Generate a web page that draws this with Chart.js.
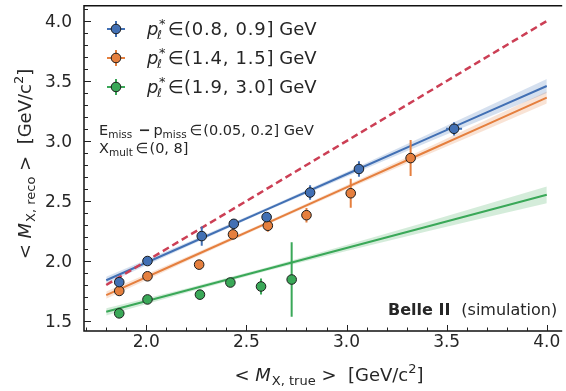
<!DOCTYPE html>
<html>
<head>
<meta charset="utf-8">
<script src="https://cdn.jsdelivr.net/npm/chart.js@4/dist/chart.umd.min.js"></script>
<style>
  html, body { margin: 0; padding: 0; background: #fff; overflow: hidden; }
  #wrap { width: 566px; height: 391px; }
</style>
</head>
<body>
<div id="wrap"><canvas id="c" width="566" height="391"></canvas></div>
<script>
// Mean reconstructed vs. true hadronic mass, three lepton-momentum bins
const blueX    = [1.865, 2.006, 2.277, 2.437, 2.601, 2.818, 3.062, 3.537];
const blueY    = [1.824, 2.000, 2.208, 2.310, 2.366, 2.571, 2.767, 3.102];
const blueErrY = [0.030, 0.030, 0.080, 0.040, 0.030, 0.060, 0.065, 0.055];
const blueErrX = [0.010, 0.010, 0.010, 0.010, 0.010, 0.010, 0.015, 0.040];

const orangeX    = [1.865, 2.006, 2.264, 2.433, 2.607, 2.800, 3.021, 3.320];
const orangeY    = [1.751, 1.873, 1.970, 2.222, 2.294, 2.382, 2.565, 2.858];
const orangeErrY = [0.030, 0.030, 0.030, 0.030, 0.050, 0.060, 0.120, 0.150];
const orangeErrX = [0.010, 0.010, 0.010, 0.010, 0.010, 0.010, 0.010, 0.010];

const greenX    = [1.865, 2.006, 2.268, 2.420, 2.573, 2.726];
const greenY    = [1.564, 1.680, 1.720, 1.821, 1.788, 1.846];
const greenErrY = [0.020, 0.020, 0.020, 0.020, 0.066, 0.310];
const greenErrX = [0.010, 0.010, 0.010, 0.010, 0.010, 0.010];

// Linear fits with their uncertainty bands, sampled at fitX
const fitX        = [1.8, 2.2, 2.6, 3.0, 3.4, 3.7, 4.0];
const blueFit     = [1.840, 2.134, 2.429, 2.723, 3.018, 3.239, 3.459];
const blueBandHi  = [1.870, 2.152, 2.442, 2.743, 3.051, 3.284, 3.517];
const blueBandLo  = [1.810, 2.116, 2.416, 2.703, 2.985, 3.194, 3.401];
const orangeFit   = [1.716, 2.015, 2.314, 2.614, 2.913, 3.137, 3.362];
const orangeBandHi= [1.746, 2.033, 2.327, 2.632, 2.943, 3.177, 3.412];
const orangeBandLo= [1.686, 1.997, 2.301, 2.596, 2.883, 3.097, 3.312];
const greenFit    = [1.577, 1.754, 1.931, 2.109, 2.286, 2.419, 2.552];
const greenBandHi = [1.607, 1.772, 1.946, 2.134, 2.326, 2.474, 2.622];
const greenBandLo = [1.547, 1.736, 1.916, 2.084, 2.246, 2.364, 2.482];

// Perfect-reconstruction reference line
const diagX = [1.8, 4.0];
const diagY = [1.8, 4.0];

// Axis tick labels
const xTicks = [2.0, 2.5, 3.0, 3.5, 4.0];
const yTicks = [1.5, 2.0, 2.5, 3.0, 3.5, 4.0];

// Legend entries
const legendRanges = ['(0.8, 0.9]', '(1.4, 1.5]', '(1.9, 3.0]'];

const C_BLUE = '#4270b4', C_ORANGE = '#e57f3e', C_GREEN = '#3aa858', C_RED = '#cc3f55';
const FONT = '"DejaVu Sans", "Liberation Sans", sans-serif';
const INK = '#262626';

const pts = (xs, ys) => xs.map((x, i) => ({ x: x, y: ys[i] }));

function scatterSet(xs, ys, ex, ey, color) {
  return {
    data: pts(xs, ys), showLine: false,
    pointRadius: 4.8, pointHoverRadius: 4.8,
    pointBackgroundColor: color, pointBorderColor: '#1c1c1c', pointBorderWidth: 1,
    errX: ex, errY: ey, errColor: color
  };
}
function lineSet(xs, ys, color, width, dash) {
  return {
    data: pts(xs, ys), showLine: true, pointRadius: 0, pointHoverRadius: 0,
    borderColor: color, borderWidth: width, borderDash: dash || [], fill: false
  };
}
function bandSet(xs, ys, fillColor, fillTo) {
  return {
    data: pts(xs, ys), showLine: true, pointRadius: 0, pointHoverRadius: 0,
    borderWidth: 0, borderColor: 'rgba(0,0,0,0)', backgroundColor: fillColor, fill: fillTo
  };
}

// Error bars underneath each marker series
const errorBars = {
  id: 'errorBars',
  beforeDatasetDraw(chart, args) {
    const ds = chart.data.datasets[args.index];
    if (!ds.errY) return;
    const xs = chart.scales.x, ys = chart.scales.y, ctx = chart.ctx;
    ctx.save();
    ctx.strokeStyle = ds.errColor;
    ctx.lineWidth = 2;
    ds.data.forEach((p, i) => {
      const px = xs.getPixelForValue(p.x), py = ys.getPixelForValue(p.y);
      ctx.beginPath();
      ctx.moveTo(px, ys.getPixelForValue(p.y - ds.errY[i]));
      ctx.lineTo(px, ys.getPixelForValue(p.y + ds.errY[i]));
      ctx.moveTo(xs.getPixelForValue(p.x - ds.errX[i]), py);
      ctx.lineTo(xs.getPixelForValue(p.x + ds.errX[i]), py);
      ctx.stroke();
    });
    ctx.restore();
  }
};

// Draw a run of text pieces left to right; returns the end x
function runText(ctx, x, y, parts, measureOnly) {
  let cx = x;
  for (const p of parts) {
    ctx.font = p.f;
    if (p.ls) {
      for (const ch of p.t) {
        if (!measureOnly) ctx.fillText(ch, cx, y + (p.dy || 0));
        cx += ctx.measureText(ch).width + p.ls;
      }
      cx -= p.ls;
    } else {
      if (!measureOnly) ctx.fillText(p.t, cx, y + (p.dy || 0));
      cx += ctx.measureText(p.t).width;
    }
    cx += (p.sp || 0);
  }
  return cx;
}

const frameAndText = {
  id: 'frameAndText',
  afterDraw(chart) {
    const ctx = chart.ctx, a = chart.chartArea;
    const xs = chart.scales.x, ys = chart.scales.y;
    ctx.save();
    // frame: left, bottom, top
    ctx.strokeStyle = '#111';
    ctx.lineWidth = 1.5;
    ctx.beginPath();
    ctx.moveTo(a.right + 2, a.top); ctx.lineTo(a.left, a.top);
    ctx.lineTo(a.left, a.bottom); ctx.lineTo(a.right + 2, a.bottom);
    ctx.stroke();
    // inward ticks
    ctx.lineWidth = 1;
    ctx.strokeStyle = '#222';
    ctx.beginPath();
    for (let k = 17; k <= 40; k++) {
      const px = Math.round(xs.getPixelForValue(k / 10)) + 0.5;
      const len = (k % 5 === 0) ? 6 : 3.5;
      ctx.moveTo(px, a.bottom); ctx.lineTo(px, a.bottom - len);
    }
    for (let k = 15; k <= 41; k++) {
      const py = Math.round(ys.getPixelForValue(k / 10)) + 0.5;
      const len = (k % 5 === 0) ? 7 : 4;
      ctx.moveTo(a.left, py); ctx.lineTo(a.left + len, py);
    }
    ctx.stroke();

    ctx.fillStyle = INK;
    ctx.textBaseline = 'alphabetic';

    // tick labels
    ctx.font = '17px ' + FONT;
    ctx.textAlign = 'center';
    xTicks.forEach(v => ctx.fillText(v.toFixed(1), xs.getPixelForValue(v), a.bottom + 16));
    ctx.textAlign = 'right';
    yTicks.forEach(v => ctx.fillText(v.toFixed(1), a.left - 12, ys.getPixelForValue(v) + 6));
    ctx.textAlign = 'left';

    // legend
    const colors = [C_BLUE, C_ORANGE, C_GREEN];
    const rowY = [29, 58, 87];
    rowY.forEach((cy, i) => {
      const mx = 116;
      ctx.strokeStyle = colors[i];
      ctx.lineWidth = 2;
      ctx.beginPath();
      ctx.moveTo(mx - 9, cy); ctx.lineTo(mx + 9, cy);
      ctx.moveTo(mx, cy - 8); ctx.lineTo(mx, cy + 8);
      ctx.stroke();
      ctx.beginPath();
      ctx.arc(mx, cy, 4.8, 0, Math.PI * 2);
      ctx.fillStyle = colors[i]; ctx.fill();
      ctx.strokeStyle = '#1c1c1c'; ctx.lineWidth = 1; ctx.stroke();
      ctx.fillStyle = INK;
      const base = cy + 6;
      ctx.font = 'italic 18px ' + FONT;
      ctx.fillText('p', 147, base);
      ctx.font = 'italic 12px ' + FONT;
      ctx.fillText('\u2113', 157, base + 4);
      ctx.font = '13px ' + FONT;
      ctx.fillText('*', 159, base - 7);
      ctx.font = '18px ' + FONT;
      ctx.fillText('\u2208', 168, base);
      runText(ctx, 184, base, [
        { t: legendRanges[i], f: '18px ' + FONT, ls: 0.75, sp: 0 },
        { t: ' GeV', f: '18px ' + FONT }
      ]);
    });

    // selection note
    const nf = '14.5px ' + FONT, sf = '10.5px ' + FONT;
    runText(ctx, 99, 135, [
      { t: 'E', f: nf }, { t: 'miss', f: sf, dy: 3, sp: 6 },
      { t: '\u2212', f: 'bold 14.5px ' + FONT, sp: 3 },
      { t: 'p', f: nf }, { t: 'miss', f: sf, dy: 3, sp: 3 },
      { t: '\u2208', f: nf, sp: 1 },
      { t: '(0.05, 0.2] GeV', f: nf }
    ]);
    runText(ctx, 99, 153, [
      { t: 'X', f: nf }, { t: 'mult', f: sf, dy: 3, sp: 3 },
      { t: '\u2208', f: nf, sp: 1 },
      { t: '(0, 8]', f: nf }
    ]);

    // experiment label
    runText(ctx, 388, 315, [
      { t: 'Belle II', f: 'bold 16px ' + FONT, sp: 11 },
      { t: '(simulation)', f: '16px ' + FONT }
    ]);

    // axis titles
    const tf = '18px ' + FONT, tif = 'italic 18px ' + FONT, tsf = '13px ' + FONT;
    const titleParts = sub => [
      { t: '< ', f: tf }, { t: 'M', f: tif, sp: 1 }, { t: sub, f: tsf, dy: 4 },
      { t: ' >  [GeV/c', f: tf }, { t: '2', f: tsf, dy: -8 }, { t: ']', f: tf }
    ];
    const xp = titleParts('X, true');
    const wx = runText(ctx, 0, 0, xp, true);
    runText(ctx, 329 - wx / 2, 381, xp);

    const yp = titleParts('X, reco');
    const wy = runText(ctx, 0, 0, yp, true);
    ctx.translate(31, 164);
    ctx.rotate(-Math.PI / 2);
    runText(ctx, -wy / 2, 0, yp);
    ctx.restore();
  }
};

// fixed plot frame: axes reserve exact space, no label overhang
function fixX(s) { s.height = 60; s.paddingLeft = 0; s.paddingRight = 0; s.paddingTop = 0; s.paddingBottom = 0; }
function fixY(s) { s.width = 84; s.paddingLeft = 0; s.paddingRight = 0; s.paddingTop = 0; s.paddingBottom = 0; }

new Chart(document.getElementById('c'), {
  type: 'scatter',
  data: {
    datasets: [
      scatterSet(blueX, blueY, blueErrX, blueErrY, C_BLUE),
      scatterSet(orangeX, orangeY, orangeErrX, orangeErrY, C_ORANGE),
      scatterSet(greenX, greenY, greenErrX, greenErrY, C_GREEN),
      lineSet(diagX, diagY, C_RED, 2.5, [7, 4]),
      lineSet(fitX, blueFit, C_BLUE, 2),
      lineSet(fitX, orangeFit, C_ORANGE, 2),
      lineSet(fitX, greenFit, C_GREEN, 2),
      bandSet(fitX, blueBandHi, 'rgba(66,112,180,0.22)', false),
      bandSet(fitX, blueBandLo, 'rgba(66,112,180,0.22)', '-1'),
      bandSet(fitX, orangeBandHi, 'rgba(229,127,62,0.22)', false),
      bandSet(fitX, orangeBandLo, 'rgba(229,127,62,0.22)', '-1'),
      bandSet(fitX, greenBandHi, 'rgba(58,168,88,0.22)', false),
      bandSet(fitX, greenBandLo, 'rgba(58,168,88,0.22)', '-1')
    ]
  },
  options: {
    responsive: false,
    animation: false,
    devicePixelRatio: 1,
    layout: { padding: { top: 4, right: 0, left: 0, bottom: 0 } },
    plugins: { legend: { display: false }, tooltip: { enabled: false } },
    scales: {
      x: {
        type: 'linear', min: 1.689, max: 4.067,
        afterFit: fixX,
        grid: { display: false }, border: { display: false },
        ticks: { display: false }
      },
      y: {
        type: 'linear', min: 1.417, max: 4.127,
        afterFit: fixY,
        grid: { display: false }, border: { display: false },
        ticks: { display: false }
      }
    }
  },
  plugins: [errorBars, frameAndText]
});
</script>
</body>
</html>
